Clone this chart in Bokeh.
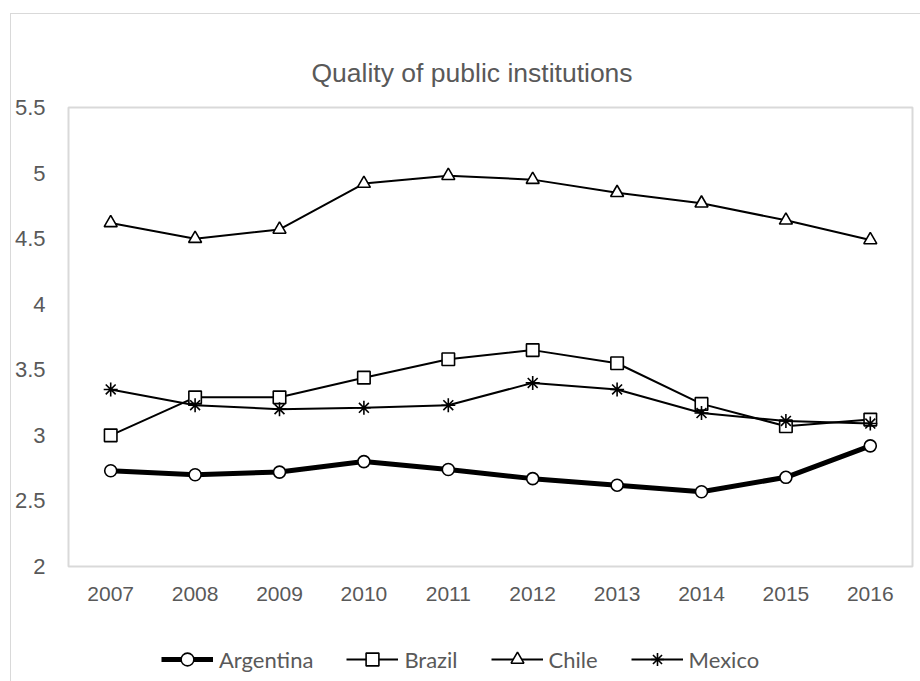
from bokeh.plotting import figure
from bokeh.models import FactorRange, Range1d, FixedTicker, Legend, LegendItem
from bokeh.layouts import column
from bokeh.embed import file_html
from bokeh.resources import INLINE

years = ["2007", "2008", "2009", "2010", "2011", "2012", "2013", "2014", "2015", "2016"]
argentina = [2.73, 2.70, 2.72, 2.80, 2.74, 2.67, 2.62, 2.57, 2.68, 2.92]
brazil = [3.00, 3.29, 3.29, 3.44, 3.58, 3.65, 3.55, 3.24, 3.07, 3.12]
chile = [4.62, 4.50, 4.57, 4.92, 4.98, 4.95, 4.85, 4.77, 4.64, 4.49]
mexico = [3.35, 3.23, 3.20, 3.21, 3.23, 3.40, 3.35, 3.17, 3.11, 3.09]
y_ticks = [2, 2.5, 3, 3.5, 4, 4.5, 5, 5.5]
y_tick_labels = ["2", "2.5", "3", "3.5", "4", "4.5", "5", "5.5"]
title_text = "Quality of public institutions"

GREY = "#595959"

p = figure(
    frame_width=844, frame_height=459,
    x_range=FactorRange(*years), y_range=Range1d(2, 5.5),
    output_backend="svg", toolbar_location=None,
    min_border_left=57, min_border_right=8, min_border_top=93, min_border_bottom=50,
)
p.title.text = title_text
p.title.align = "left"
p.title.offset = 243
p.title.text_font = "Liberation Sans"
p.title.text_font_size = "26.5px"
p.title.text_font_style = "normal"
p.title.text_color = GREY
p.title.standoff = 40

p.outline_line_color = "#d9d9d9"
p.outline_line_width = 2
p.xgrid.visible = False
p.ygrid.visible = False

for ax in (p.xaxis[0], p.yaxis[0]):
    ax.axis_line_color = None
    ax.major_tick_line_color = None
    ax.minor_tick_line_color = None
    ax.major_label_text_font = "Liberation Sans"
    ax.major_label_text_color = GREY

p.xaxis[0].major_label_text_font_size = "21px"
p.yaxis[0].major_label_text_font_size = "22px"
p.yaxis[0].ticker = FixedTicker(ticks=y_ticks)
p.yaxis[0].major_label_overrides = {float(t): l for t, l in zip(y_ticks, y_tick_labels)}
p.yaxis[0].major_label_standoff = 17
p.xaxis[0].major_label_standoff = 14

# legend-only strip under the chart (same series, drawn out of its view)
lf = figure(
    frame_width=844, frame_height=65,
    x_range=p.x_range, y_range=Range1d(100, 101),
    output_backend="svg", toolbar_location=None,
    min_border_left=57, min_border_right=8, min_border_top=0, min_border_bottom=0,
)
lf.xaxis.visible = False
lf.yaxis.visible = False
lf.xgrid.visible = False
lf.ygrid.visible = False
lf.outline_line_color = None

series = [
    ("Argentina", argentina, "circle", 12, 5),
    ("Brazil", brazil, "square", 12.5, 2),
    ("Chile", chile, "triangle", 13, 2),
    ("Mexico", mexico, "asterisk", 14, 2),
]

items = []
for name, vals, marker, size, lw in series:
    p.line(years, vals, line_color="black", line_width=lw)
    p.scatter(years, vals, marker=marker, size=size, fill_color="white",
              line_color="black", line_width=1.6)
    ln = lf.line(years, vals, line_color="black", line_width=lw)
    mk = lf.scatter(years, vals, marker=marker, size=size, fill_color="white",
                    line_color="black", line_width=1.6)
    items.append(LegendItem(label=name, renderers=[ln, mk]))

legend = Legend(items=items, orientation="horizontal", location=(93, 6),
                glyph_width=52, glyph_height=32, label_standoff=6, spacing=33,
                label_text_font="Lato", label_text_font_size="22px",
                label_text_color=GREY, border_line_alpha=0,
                background_fill_alpha=0, padding=0, margin=0)
lf.add_layout(legend)

layout = column(p, lf, margin=(13, 0, 0, 10),
                styles={"border-top": "1px solid #d9d9d9", "border-left": "1px solid #d9d9d9"})

open("out.html", "w").write(file_html(layout, INLINE))
